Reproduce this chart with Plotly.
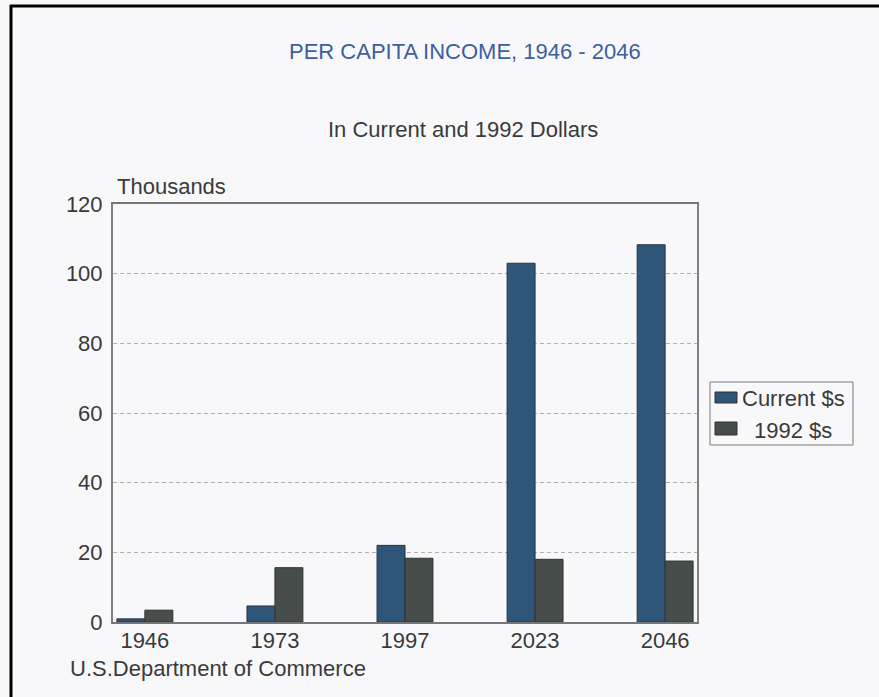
import plotly.graph_objects as go

years = ["1946", "1973", "1997", "2023", "2046"]
current_dollars = [0.9, 4.6, 22.0, 103.0, 108.3]
constant_1992 = [3.4, 15.6, 18.3, 18.0, 17.5]
series_names = ["Current $s", "1992 $s"]
y_ticks = [0, 20, 40, 60, 80, 100, 120]

current_color = "#2f5579"
constant_color = "#474d4a"

# plot-area pixel geometry used to place paper-referenced decorations
W, H = 879, 697
L, R, T, B = 113, 697, 204, 622
pw, ph = R - L, B - T


def px(x):
    return (x - L) / pw


def py(y):
    return (B - y) / ph


font_family = "Liberation Sans, Arial, sans-serif"
text_col = "#3a3a3a"
fs = 22

fig = go.Figure()
fig.add_trace(go.Bar(
    x=years, y=current_dollars, name=series_names[0],
    marker=dict(color=current_color, line=dict(color="#2a3340", width=1)),
))
fig.add_trace(go.Bar(
    x=years, y=constant_1992, name=series_names[1],
    marker=dict(color=constant_color, line=dict(color="#333333", width=1)),
))

fig.update_layout(
    width=W, height=H,
    margin=dict(l=L, r=W - R, t=T, b=H - B),
    paper_bgcolor="#f8f8fa",
    plot_bgcolor="#f8f8fa",
    barmode="group",
    bargap=0.57,
    bargroupgap=0,
    font=dict(family=font_family, color=text_col, size=fs),
    showlegend=False,
    xaxis=dict(
        type="category", range=[-0.245, 4.245],
        showgrid=False, ticks="", showline=True, linecolor="#777777",
        linewidth=2, mirror=True, tickfont=dict(size=fs, color=text_col),
        ticklabelstandoff=-2, fixedrange=True,
    ),
    yaxis=dict(
        range=[0, 120], tickvals=y_ticks, ticks="",
        showgrid=True, gridcolor="#b0b0b0", griddash="4px,3px", gridwidth=1,
        showline=True, linecolor="#808080", linewidth=2, mirror=True,
        zeroline=False, tickfont=dict(size=fs, color=text_col),
        ticklabelstandoff=4, fixedrange=True,
    ),
)

fig.add_annotation(
    text="PER CAPITA INCOME, 1946 - 2046", xref="paper", yref="paper",
    x=px(465), y=py(51), showarrow=False, xanchor="center", yanchor="middle",
    font=dict(size=fs, color="#3e5f9f"),
)
fig.add_annotation(
    text="In Current and 1992 Dollars", xref="paper", yref="paper",
    x=px(463), y=py(129), showarrow=False, xanchor="center", yanchor="middle",
    font=dict(size=fs, color=text_col),
)
fig.add_annotation(
    text="Thousands", xref="paper", yref="paper",
    x=px(115), y=py(187), showarrow=False, xanchor="left", yanchor="middle",
    font=dict(size=fs, color=text_col),
)
fig.add_annotation(
    text="U.S.Department of Commerce", xref="paper", yref="paper",
    x=px(68), y=py(668), showarrow=False, xanchor="left", yanchor="middle",
    font=dict(size=fs, color=text_col),
)

# legend box with swatches keyed to the series colours
fig.add_shape(type="rect", xref="paper", yref="paper",
              x0=px(710), x1=px(853), y0=py(382), y1=py(445),
              line=dict(color="#7a7a7a", width=1), fillcolor="rgba(0,0,0,0)")
legend_rows = [
    (series_names[0], current_color, 392, 403, 740, 398),
    (series_names[1], constant_color, 422, 435, 752, 430),
]
for name, color, sy0, sy1, tx, ty in legend_rows:
    fig.add_shape(type="rect", xref="paper", yref="paper",
                  x0=px(715), x1=px(737), y0=py(sy1), y1=py(sy0),
                  line=dict(color="#333333", width=1), fillcolor=color)
    fig.add_annotation(
        text=name, xref="paper", yref="paper", x=px(tx), y=py(ty),
        showarrow=False, xanchor="left", yanchor="middle",
        font=dict(size=fs, color=text_col),
    )

# black frame along the top and left edges of the page
fig.add_shape(type="line", xref="paper", yref="paper",
              x0=px(10), x1=px(W + 5), y0=py(6), y1=py(6),
              line=dict(color="#000000", width=3))
fig.add_shape(type="line", xref="paper", yref="paper",
              x0=px(11), x1=px(11), y0=py(5), y1=py(H + 5),
              line=dict(color="#000000", width=3))

fig.write_html("out.html")
